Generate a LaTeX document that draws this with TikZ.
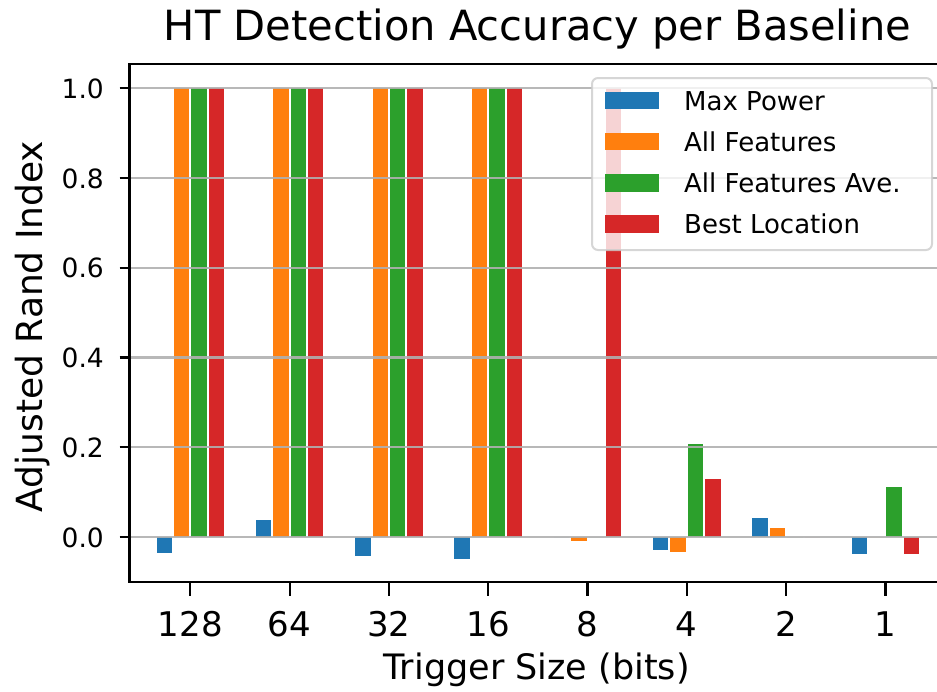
\documentclass[tikz,border=0pt]{standalone}
\usepackage{fontspec}
\setmainfont{DejaVu Sans}
\definecolor{cblue}{HTML}{1F77B4}
\definecolor{corange}{HTML}{FF7F0E}
\definecolor{cgreen}{HTML}{2CA02C}
\definecolor{cred}{HTML}{D62728}
\definecolor{gridc}{HTML}{B0B0B0}
\tikzset{
  gridline/.style={draw=gridc, line width=2.2pt, draw opacity=0.9},
  spine/.style={line width=2.6pt, line join=miter, line cap=rect},
  tickmark/.style={line width=2.2pt},
  ytl/.style={anchor=base east, inner sep=0pt, font=\fontsize{26.5}{30}\selectfont},
  xtl/.style={anchor=base, inner sep=0pt, font=\fontsize{34}{40}\selectfont},
  legtext/.style={anchor=base west, inner sep=0pt, font=\fontsize{26}{30}\selectfont},
  legbox/.style={rounded corners=6pt, fill=white, fill opacity=0.8, draw=black!20, draw opacity=0.8, line width=2pt},
}
\begin{document}
\begin{tikzpicture}[x=1pt,y=-1pt]
\useasboundingbox (0,0) rectangle (937,691);
% bars
\foreach \v [count=\i from 0] in {-0.036,0.038,-0.043,-0.050,0,-0.028,0.043,-0.037}
  \fill[cblue] ({190.3+99.3*\i-26.1-7.7},537) rectangle ({190.3+99.3*\i-26.1+7.7},{537-449*\v});
\foreach \v [count=\i from 0] in {1,1,1,1,-0.010,-0.033,0.020,0}
  \fill[corange] ({190.3+99.3*\i-8.7-7.7},537) rectangle ({190.3+99.3*\i-8.7+7.7},{537-449*\v});
\foreach \v [count=\i from 0] in {1,1,1,1,0,0.207,0,0.111}
  \fill[cgreen] ({190.3+99.3*\i+8.7-7.7},537) rectangle ({190.3+99.3*\i+8.7+7.7},{537-449*\v});
\foreach \v [count=\i from 0] in {1,1,1,1,1,0.129,0,-0.037}
  \fill[cred] ({190.3+99.3*\i+26.1-7.7},537) rectangle ({190.3+99.3*\i+26.1+7.7},{537-449*\v});
% grid
\foreach \t in {0,1,2,3,4,5}
  \draw[gridline] (129.5,{537-89.8*\t}) -- (937,{537-89.8*\t});
% spines
\draw[spine] (940,64) -- (129.5,64) -- (129.5,582) -- (940,582);
% y ticks
\foreach \t/\lab in {0/0.0,1/0.2,2/0.4,3/0.6,4/0.8,5/1.0}{
  \draw[tickmark] (119.5,{537-89.8*\t}) -- (129.5,{537-89.8*\t});
  \node[ytl] (yt\t) at (104,{547.3-89.8*\t}) {\lab};
}
% x ticks
\foreach \lab [count=\i from 0] in {128,64,32,16,8,4,2,1}{
  \draw[tickmark] ({190.3+99.3*\i},582) -- ({190.3+99.3*\i},596);
  \node[xtl] (xt\i) at ({190.3+99.3*\i},636) {\lab};
}
% labels
\node[anchor=base, inner sep=0pt, font=\fontsize{41.6}{48}\selectfont] (title) at (537.5,40) {HT Detection Accuracy per Baseline};
\node[anchor=base, inner sep=0pt, font=\fontsize{35}{42}\selectfont] (xlabel) at (536.7,679) {Trigger Size (bits)};
\node[anchor=base, inner sep=0pt, rotate=90, font=\fontsize{36}{42}\selectfont] (ylabel) at (42,326.5) {Adjusted Rand Index};
% legend
\draw[legbox] (592,78) rectangle (932,250);
\foreach \c/\lab [count=\i from 0] in {cblue/Max Power,corange/All Features,cgreen/All Features Ave.,cred/Best Location}{
  \fill[\c] (605,{100.5+41.1*\i-8.8}) rectangle (659,{100.5+41.1*\i+8.8});
  \node[legtext] (leg\i) at (684,{110+41.1*\i}) {\lab};
}
\end{tikzpicture}
\end{document}
